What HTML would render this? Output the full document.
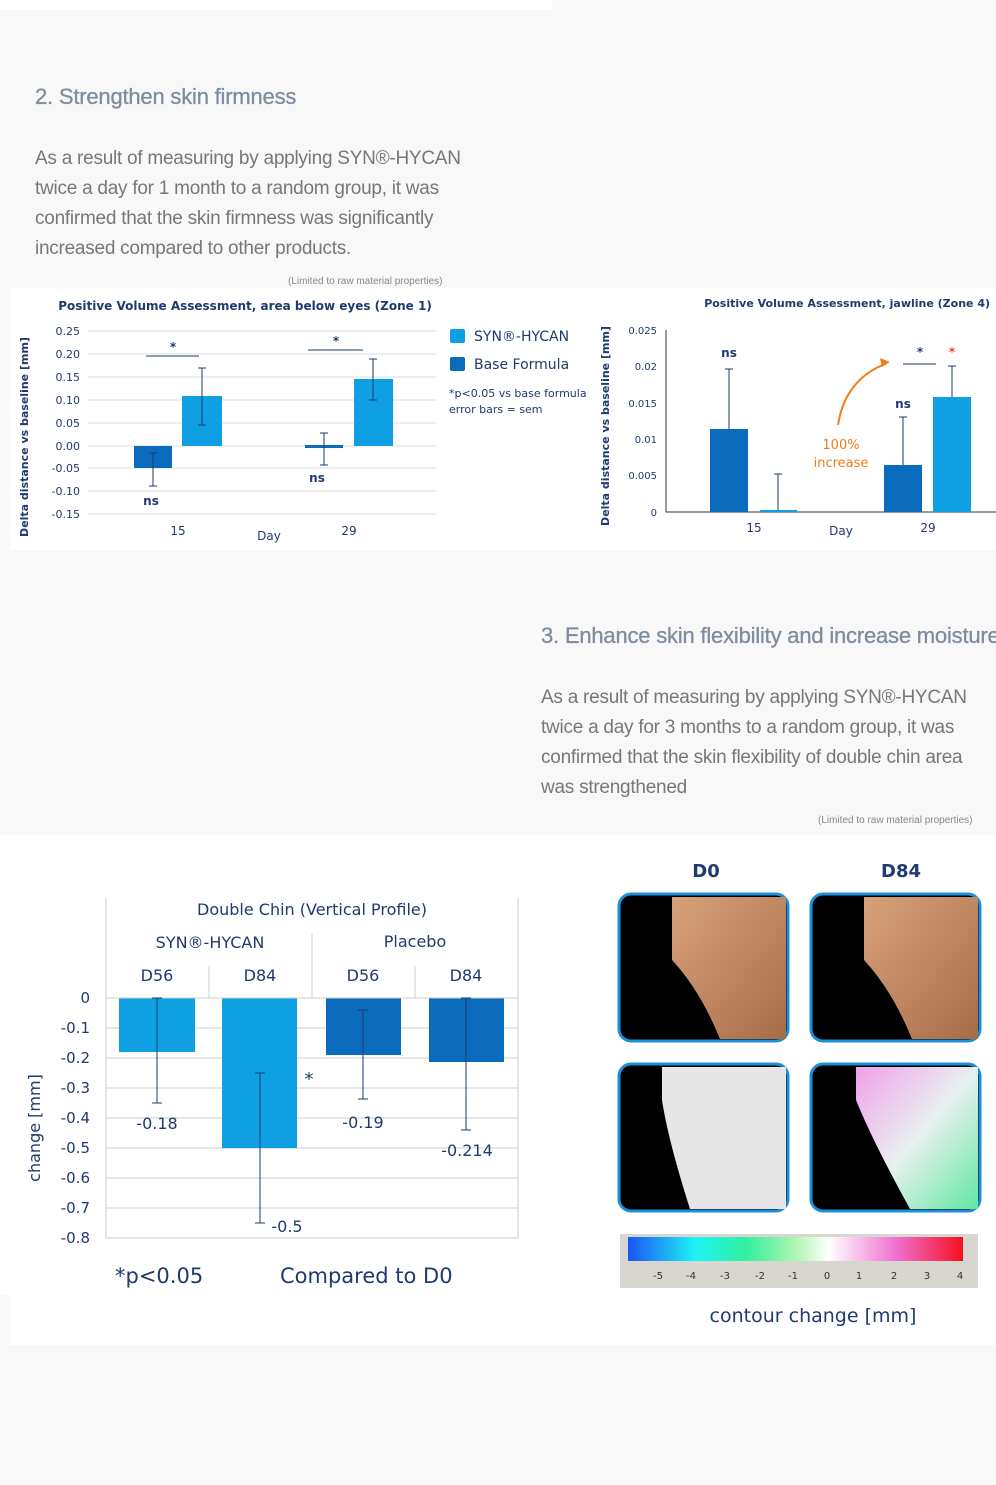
<!DOCTYPE html>
<html><head><meta charset="utf-8"><style>
body{margin:0;width:996px;height:1485px;background:#f8f8f8;font-family:"Liberation Sans","DejaVu Sans",sans-serif;position:relative;overflow:hidden}
.a{position:absolute}
h2{position:absolute;margin:0;font-weight:normal;color:#7f8c9e;font-size:22px;letter-spacing:-0.2px;-webkit-text-stroke:0.3px #7f8c9e}
p.t{position:absolute;margin:0;color:#777;font-size:19px;line-height:30px;letter-spacing:-0.25px}
.s{position:absolute;font-size:10px;color:#888}
</style></head><body>
<div class="a" style="left:0;top:0;width:552px;height:10px;background:#fff"></div>
<h2 style="left:35px;top:84px">2. Strengthen skin firmness</h2>
<p class="t" style="left:35px;top:144px">As a result of measuring by applying SYN®-HYCAN<br>twice a day for 1 month to a random group, it was<br>confirmed that the skin firmness was significantly<br>increased compared to other products.</p>
<div class="s" style="left:288px;top:276px">(Limited to raw material properties)</div>
<svg class="a" style="left:0;top:0" width="996" height="1485" font-family="DejaVu Sans, sans-serif">
<rect x="10" y="288" width="986" height="262" fill="#fff"/>
<text x="245" y="310" font-size="12" font-weight="bold" fill="#1f3a6e" text-anchor="middle">Positive Volume Assessment, area below eyes (Zone 1)</text>
<g stroke="#ddd"><line x1="88" x2="436" y1="331" y2="331"/><line x1="88" x2="436" y1="354" y2="354"/><line x1="88" x2="436" y1="377" y2="377"/><line x1="88" x2="436" y1="400" y2="400"/><line x1="88" x2="436" y1="423" y2="423"/><line x1="88" x2="436" y1="446" y2="446"/><line x1="88" x2="436" y1="468" y2="468"/><line x1="88" x2="436" y1="491" y2="491"/><line x1="88" x2="436" y1="514" y2="514"/></g>
<g font-size="11" fill="#1f3a6e" text-anchor="end"><text x="80" y="335">0.25</text><text x="80" y="358">0.20</text><text x="80" y="381">0.15</text><text x="80" y="404">0.10</text><text x="80" y="427">0.05</text><text x="80" y="450">0.00</text><text x="80" y="472">-0.05</text><text x="80" y="495">-0.10</text><text x="80" y="518">-0.15</text></g>
<text transform="translate(28,437) rotate(-90)" font-size="11" font-weight="bold" fill="#1f3a6e" text-anchor="middle">Delta distance vs baseline [mm]</text>
<rect x="134" y="446" width="38" height="22" fill="#0a6bbd"/><rect x="182" y="396" width="40" height="50" fill="#0ea0e2"/>
<rect x="305" y="445" width="38" height="3" fill="#0a6bbd"/><rect x="354" y="379" width="39" height="67" fill="#0ea0e2"/>
<g stroke="#1f3a6e" fill="none"><path d="M153 453V486M149 453h8M149 486h8M202 368V425M198 368h8M198 425h8M324 433V465M320 433h8M320 465h8M373 359V400M369 359h8M369 400h8M146 356h53M308 350h55"/></g>
<g font-size="12" fill="#1f3a6e" font-weight="bold" text-anchor="middle"><text x="173" y="351">*</text><text x="336" y="345">*</text><text x="151" y="505">ns</text><text x="317" y="482">ns</text></g>
<g font-size="12" fill="#1f3a6e" text-anchor="middle"><text x="178" y="535">15</text><text x="349" y="535">29</text><text x="269" y="540">Day</text></g>
<rect x="450" y="329" width="15" height="14" fill="#0ea0e2" rx="2"/><rect x="450" y="357" width="15" height="14" fill="#0a6bbd" rx="2"/>
<text x="474" y="341" font-size="14" fill="#1f3a6e">SYN®-HYCAN</text><text x="474" y="369" font-size="14" fill="#1f3a6e">Base Formula</text>
<text x="449" y="397" font-size="11" fill="#1f3a6e">*p&lt;0.05 vs base formula</text><text x="449" y="413" font-size="11" fill="#1f3a6e">error bars = sem</text>
<text x="990" y="307" font-size="11" font-weight="bold" fill="#1f3a6e" text-anchor="end">Positive Volume Assessment, jawline (Zone 4)</text>
<text transform="translate(609,426) rotate(-90)" font-size="11" font-weight="bold" fill="#1f3a6e" text-anchor="middle">Delta distance vs baseline [mm]</text>
<g font-size="10" fill="#1f3a6e" text-anchor="end"><text x="657" y="334">0.025</text><text x="657" y="370">0.02</text><text x="657" y="407">0.015</text><text x="657" y="443">0.01</text><text x="657" y="479">0.005</text><text x="657" y="516">0</text></g>
<path d="M666 330V512H996" stroke="#333" fill="none"/>
<rect x="710" y="429" width="38" height="83" fill="#0a6bbd"/><rect x="760" y="510" width="37" height="2" fill="#0ea0e2"/>
<rect x="884" y="465" width="38" height="47" fill="#0a6bbd"/><rect x="933" y="397" width="38" height="115" fill="#0ea0e2"/>
<g stroke="#1f3a6e" fill="none"><path d="M729 369V429M725 369h8M778 474V510M774 474h8M903 417V465M899 417h8M952 366V397M948 366h8M903 364h33"/></g>
<path d="M838 425Q845 380 885 364" stroke="#f07d1a" stroke-width="2" fill="none"/><path d="M890 362l-10-4 2 9z" fill="#f07d1a"/>
<g font-size="12" font-weight="bold" text-anchor="middle"><text x="729" y="357" fill="#1f3a6e">ns</text><text x="903" y="408" fill="#1f3a6e">ns</text><text x="920" y="356" fill="#1f3a6e">*</text><text x="952" y="356" fill="#f04040">*</text></g>
<text x="841" y="449" font-size="13" fill="#f07d1a" text-anchor="middle">100%</text><text x="841" y="467" font-size="13" fill="#f07d1a" text-anchor="middle">increase</text>
<g font-size="12" fill="#1f3a6e" text-anchor="middle"><text x="754" y="532">15</text><text x="928" y="532">29</text><text x="841" y="535">Day</text></g>
<rect x="0" y="835" width="996" height="510" fill="#fff"/>
<rect x="0" y="1295" width="10" height="50" fill="#f8f8f8"/>
<g stroke="#ccc"><path d="M106 898V1238M518 898V1238M312 933V998M209 966V998M415 966V998"/>
<path d="M106 1028H518M106 1058H518M106 1088H518M106 1118H518M106 1148H518M106 1178H518M106 1208H518M106 1238H518"/></g>
<g font-size="16" fill="#1f3a6e" text-anchor="middle"><text x="312" y="915">Double Chin (Vertical Profile)</text><text x="210" y="948">SYN®-HYCAN</text><text x="415" y="947">Placebo</text><text x="157" y="981">D56</text><text x="260" y="981">D84</text><text x="363" y="981">D56</text><text x="466" y="981">D84</text></g>
<g font-size="15" fill="#1f3a6e" text-anchor="end"><text x="90" y="1003">0</text><text x="90" y="1033">-0.1</text><text x="90" y="1063">-0.2</text><text x="90" y="1093">-0.3</text><text x="90" y="1123">-0.4</text><text x="90" y="1153">-0.5</text><text x="90" y="1183">-0.6</text><text x="90" y="1213">-0.7</text><text x="90" y="1243">-0.8</text></g>
<text transform="translate(40,1128) rotate(-90)" font-size="16" fill="#1f3a6e" text-anchor="middle">change [mm]</text>
<rect x="119" y="998" width="76" height="54" fill="#0ea0e2"/><rect x="222" y="998" width="75" height="150" fill="#0ea0e2"/>
<rect x="326" y="998" width="75" height="57" fill="#0a6bbd"/><rect x="429" y="998" width="75" height="64" fill="#0a6bbd"/>
<line x1="106" x2="518" y1="998" y2="998" stroke="#ccc"/>
<g stroke="#1f3a6e" fill="none"><path d="M157 998V1103M152 998h10M152 1103h10M260 1073V1223M255 1073h10M255 1223h10M363 1010V1099M358 1010h10M358 1099h10M466 998V1130M461 998h10M461 1130h10"/></g>
<g font-size="16" fill="#1f3a6e" text-anchor="middle"><text x="157" y="1129">-0.18</text><text x="287" y="1232">-0.5</text><text x="363" y="1128">-0.19</text><text x="467" y="1156">-0.214</text><text x="309" y="1085" font-size="18">*</text></g>
<text x="115" y="1283" font-size="21" fill="#1f3a6e">*p&lt;0.05</text><text x="280" y="1283" font-size="21" fill="#1f3a6e">Compared to D0</text>
<g font-size="18" font-weight="bold" fill="#1f3a6e" text-anchor="middle"><text x="706" y="877">D0</text><text x="901" y="877">D84</text></g>
<defs><linearGradient id="cb"><stop offset="0" stop-color="#1a55f5"/><stop offset=".2" stop-color="#1ff2f5"/><stop offset=".35" stop-color="#30f0a0"/><stop offset=".5" stop-color="#aef5b0"/><stop offset=".6" stop-color="#fff"/><stop offset=".8" stop-color="#f070d0"/><stop offset="1" stop-color="#f51020"/></linearGradient>
<linearGradient id="sk" x1="0" y1="0" x2="1" y2="1"><stop offset="0" stop-color="#d8a27a"/><stop offset="1" stop-color="#a86c48"/></linearGradient>
<linearGradient id="mp" x1="0" y1="0" x2="1" y2="1"><stop offset="0" stop-color="#f0a0e8"/><stop offset=".5" stop-color="#e8f0f0"/><stop offset="1" stop-color="#60e8a0"/></linearGradient></defs>
<g stroke="#1d8fd8" stroke-width="3">
<rect x="619" y="894" width="169" height="147" rx="12" fill="#000"/><rect x="811" y="894" width="169" height="147" rx="12" fill="#000"/>
<rect x="619" y="1064" width="169" height="147" rx="12" fill="#000"/><rect x="811" y="1064" width="169" height="147" rx="12" fill="#000"/></g>
<path d="M672 897H786V1039H720Q700 990 672 960Z" fill="url(#sk)"/><path d="M864 897H978V1039H912Q892 990 864 960Z" fill="url(#sk)"/>
<path d="M662 1067H786V1209H690Q668 1140 662 1100Z" fill="#e6e6e6"/><path d="M856 1067H978V1209H910Q872 1140 856 1100Z" fill="url(#mp)"/>
<rect x="620" y="1234" width="358" height="54" fill="#d8d6d0"/><rect x="628" y="1237" width="335" height="24" fill="url(#cb)"/>
<g font-size="10" fill="#333" text-anchor="middle"><text x="658" y="1279">-5</text><text x="691" y="1279">-4</text><text x="725" y="1279">-3</text><text x="760" y="1279">-2</text><text x="793" y="1279">-1</text><text x="827" y="1279">0</text><text x="859" y="1279">1</text><text x="894" y="1279">2</text><text x="927" y="1279">3</text><text x="960" y="1279">4</text></g>
<text x="813" y="1322" font-size="19" fill="#1f3a6e" text-anchor="middle">contour change [mm]</text>
</svg>
<h2 style="left:541px;top:623px;white-space:nowrap">3. Enhance skin flexibility and increase moisture</h2>
<p class="t" style="left:541px;top:683px">As a result of measuring by applying SYN®-HYCAN<br>twice a day for 3 months to a random group, it was<br>confirmed that the skin flexibility of double chin area<br>was strengthened</p>
<div class="s" style="left:818px;top:815px">(Limited to raw material properties)</div>
</body></html>
